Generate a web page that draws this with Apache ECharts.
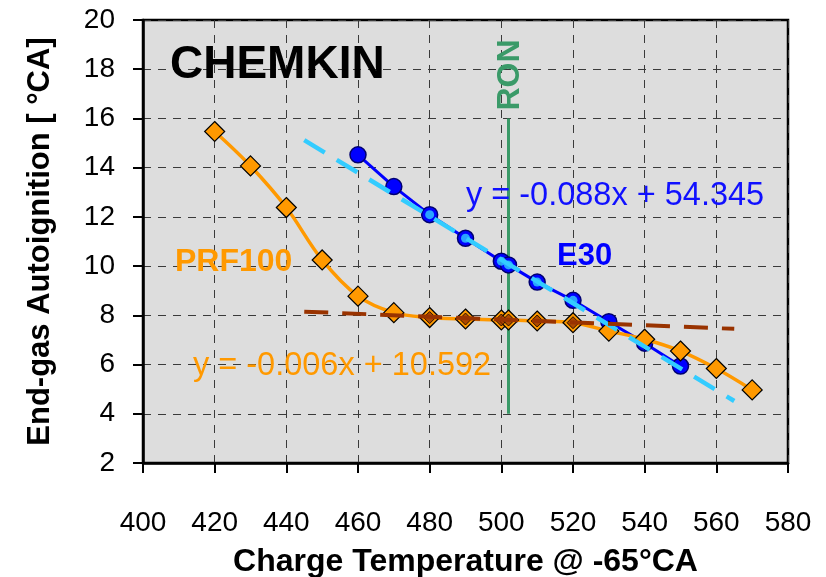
<!DOCTYPE html>
<html>
<head>
<meta charset="utf-8">
<script src="https://cdn.jsdelivr.net/npm/echarts@6/dist/echarts.min.js"></script>
<style>
html,body{margin:0;padding:0;background:#fff;}
#chart{width:826px;height:577px;}
</style>
</head>
<body>
<div id="chart"></div>
<script>
// ---- data ----
var prfX = [420, 430, 440, 450, 460, 470, 480, 490, 500, 502, 510, 520, 530, 540, 550, 560, 570];
var prfY = [15.47, 14.07, 12.38, 10.25, 8.78, 8.11, 7.91, 7.85, 7.81, 7.81, 7.77, 7.70, 7.36, 7.03, 6.55, 5.84, 4.97];

var e30X = [460, 470, 480, 490, 500, 502, 510, 520, 530, 540, 550];
var e30Y = [14.52, 13.23, 12.09, 11.13, 10.20, 10.05, 9.35, 8.61, 7.74, 6.87, 5.94];

// points used for the linear fits (highlighted markers)
var fitX = [480, 490, 500, 502, 510, 520];
var e30FitY = [12.09, 11.13, 10.20, 10.05, 9.35, 8.61];
var prfFitY = [7.91, 7.85, 7.81, 7.81, 7.77, 7.70];

// trend lines (as drawn)
var trendX = [445, 565];
var e30TrendY = [15.12, 4.52];
var prfTrendY = [8.15, 7.45];

// RON marker line
var ronX = [502, 502];
var ronY = [4, 16];

var xTicks = {min: 400, max: 580, interval: 20};
var yTicks = {min: 2, max: 20, interval: 2};

function pairs(xs, ys) { return xs.map(function (x, i) { return [x, ys[i]]; }); }

var FONT = '"Liberation Sans", Arial, sans-serif';
var chart = echarts.init(document.getElementById('chart'), null, {renderer: 'canvas'});

var option = {
  animation: false,
  backgroundColor: '#ffffff',
  grid: {
    left: 143, right: 38, top: 20, bottom: 114,
    containLabel: false, outerBoundsMode: 'none',
    show: true, backgroundColor: '#DDDDDD', borderColor: '#000', borderWidth: 2.5
  },
  xAxis: {
    type: 'value', min: xTicks.min, max: xTicks.max, interval: xTicks.interval,
    name: 'Charge Temperature @ -65\u00b0CA', nameLocation: 'middle', nameGap: 83,
    nameTextStyle: {fontFamily: FONT, fontWeight: 'bold', fontSize: 32, color: '#000'},
    axisLine: {show: true, onZero: false, lineStyle: {color: '#000', width: 2.5}},
    axisTick: {show: true, inside: false, length: 10, lineStyle: {color: '#000', width: 2}},
    axisLabel: {fontFamily: FONT, fontSize: 28, color: '#000', margin: 46},
    splitLine: {show: true, lineStyle: {color: '#3a3a3a', width: 1, type: [8, 7]}}
  },
  yAxis: {
    type: 'value', min: yTicks.min, max: yTicks.max, interval: yTicks.interval,
    name: 'End-gas Autoignition [ \u00b0CA]', nameLocation: 'middle', nameGap: 87,
    nameTextStyle: {fontFamily: FONT, fontWeight: 'bold', fontSize: 31, color: '#000'},
    axisLine: {show: true, onZero: false, lineStyle: {color: '#000', width: 2.5}},
    axisTick: {show: true, inside: false, length: 10, lineStyle: {color: '#000', width: 2}},
    axisLabel: {fontFamily: FONT, fontSize: 28, color: '#000', margin: 28},
    splitLine: {show: true, lineStyle: {color: '#3a3a3a', width: 1, type: [8, 7]}}
  },
  series: [
    {
      type: 'line', name: 'RON', data: pairs(ronX, ronY), showSymbol: false, z: 2,
      lineStyle: {color: '#3A9A68', width: 3}, silent: true
    },
    {
      type: 'line', name: 'E30', data: pairs(e30X, e30Y), z: 3,
      symbol: 'circle', symbolSize: 16,
      itemStyle: {color: '#0000FF', borderColor: '#000070', borderWidth: 1.5},
      lineStyle: {color: '#0000FF', width: 3}
    },
    {
      type: 'line', name: 'PRF100', data: pairs(prfX, prfY), smooth: 0.35, z: 4,
      symbol: 'diamond', symbolSize: 20,
      itemStyle: {color: '#FF9900', borderColor: '#000', borderWidth: 1.2},
      lineStyle: {color: '#FF9900', width: 3.5}
    },
    {
      type: 'scatter', name: 'E30 fit pts', data: pairs(fitX, e30FitY), z: 5,
      symbol: 'circle', symbolSize: 9,
      itemStyle: {color: '#33CCFF', borderWidth: 0}
    },
    {
      type: 'scatter', name: 'PRF fit pts', data: pairs(fitX, prfFitY), z: 5,
      symbol: 'diamond', symbolSize: 12,
      itemStyle: {color: '#993300', borderColor: '#000', borderWidth: 1}
    },
    {
      type: 'line', name: 'E30 trend', data: pairs(trendX, e30TrendY), showSymbol: false, z: 6,
      lineStyle: {color: '#33CCFF', width: 4.5, type: [24, 14]}
    },
    {
      type: 'line', name: 'PRF trend', data: pairs(trendX, prfTrendY), showSymbol: false, z: 6,
      lineStyle: {color: '#993300', width: 4, type: [24, 14]}
    }
  ],
  graphic: [
    {type: 'text', x: 170, y: 65, z: 100,
      style: {text: 'CHEMKIN', font: 'bold 46px ' + FONT, fill: '#000', align: 'left', verticalAlign: 'middle'}},
    {type: 'text', x: 175, y: 262, z: 100,
      style: {text: 'PRF100', font: 'bold 32px ' + FONT, fill: '#FF9900', align: 'left', verticalAlign: 'middle'}},
    {type: 'text', x: 557, y: 256, z: 100,
      style: {text: 'E30', font: 'bold 31px ' + FONT, fill: '#0000FF', align: 'left', verticalAlign: 'middle'}},
    {type: 'text', x: 466, y: 196, z: 100,
      style: {text: 'y = -0.088x + 54.345', font: '32.5px ' + FONT, fill: '#1010FF', align: 'left', verticalAlign: 'middle'}},
    {type: 'text', x: 193, y: 366, z: 100,
      style: {text: 'y = -0.006x + 10.592', font: '32.5px ' + FONT, fill: '#FF9900', align: 'left', verticalAlign: 'middle'}},
    {type: 'text', x: 510, y: 75, z: 100, rotation: Math.PI / 2,
      style: {text: 'RON', font: 'bold 32px ' + FONT, fill: '#3A9A68', align: 'center', verticalAlign: 'middle'}}
  ]
};
chart.setOption(option);
</script>
</body>
</html>
